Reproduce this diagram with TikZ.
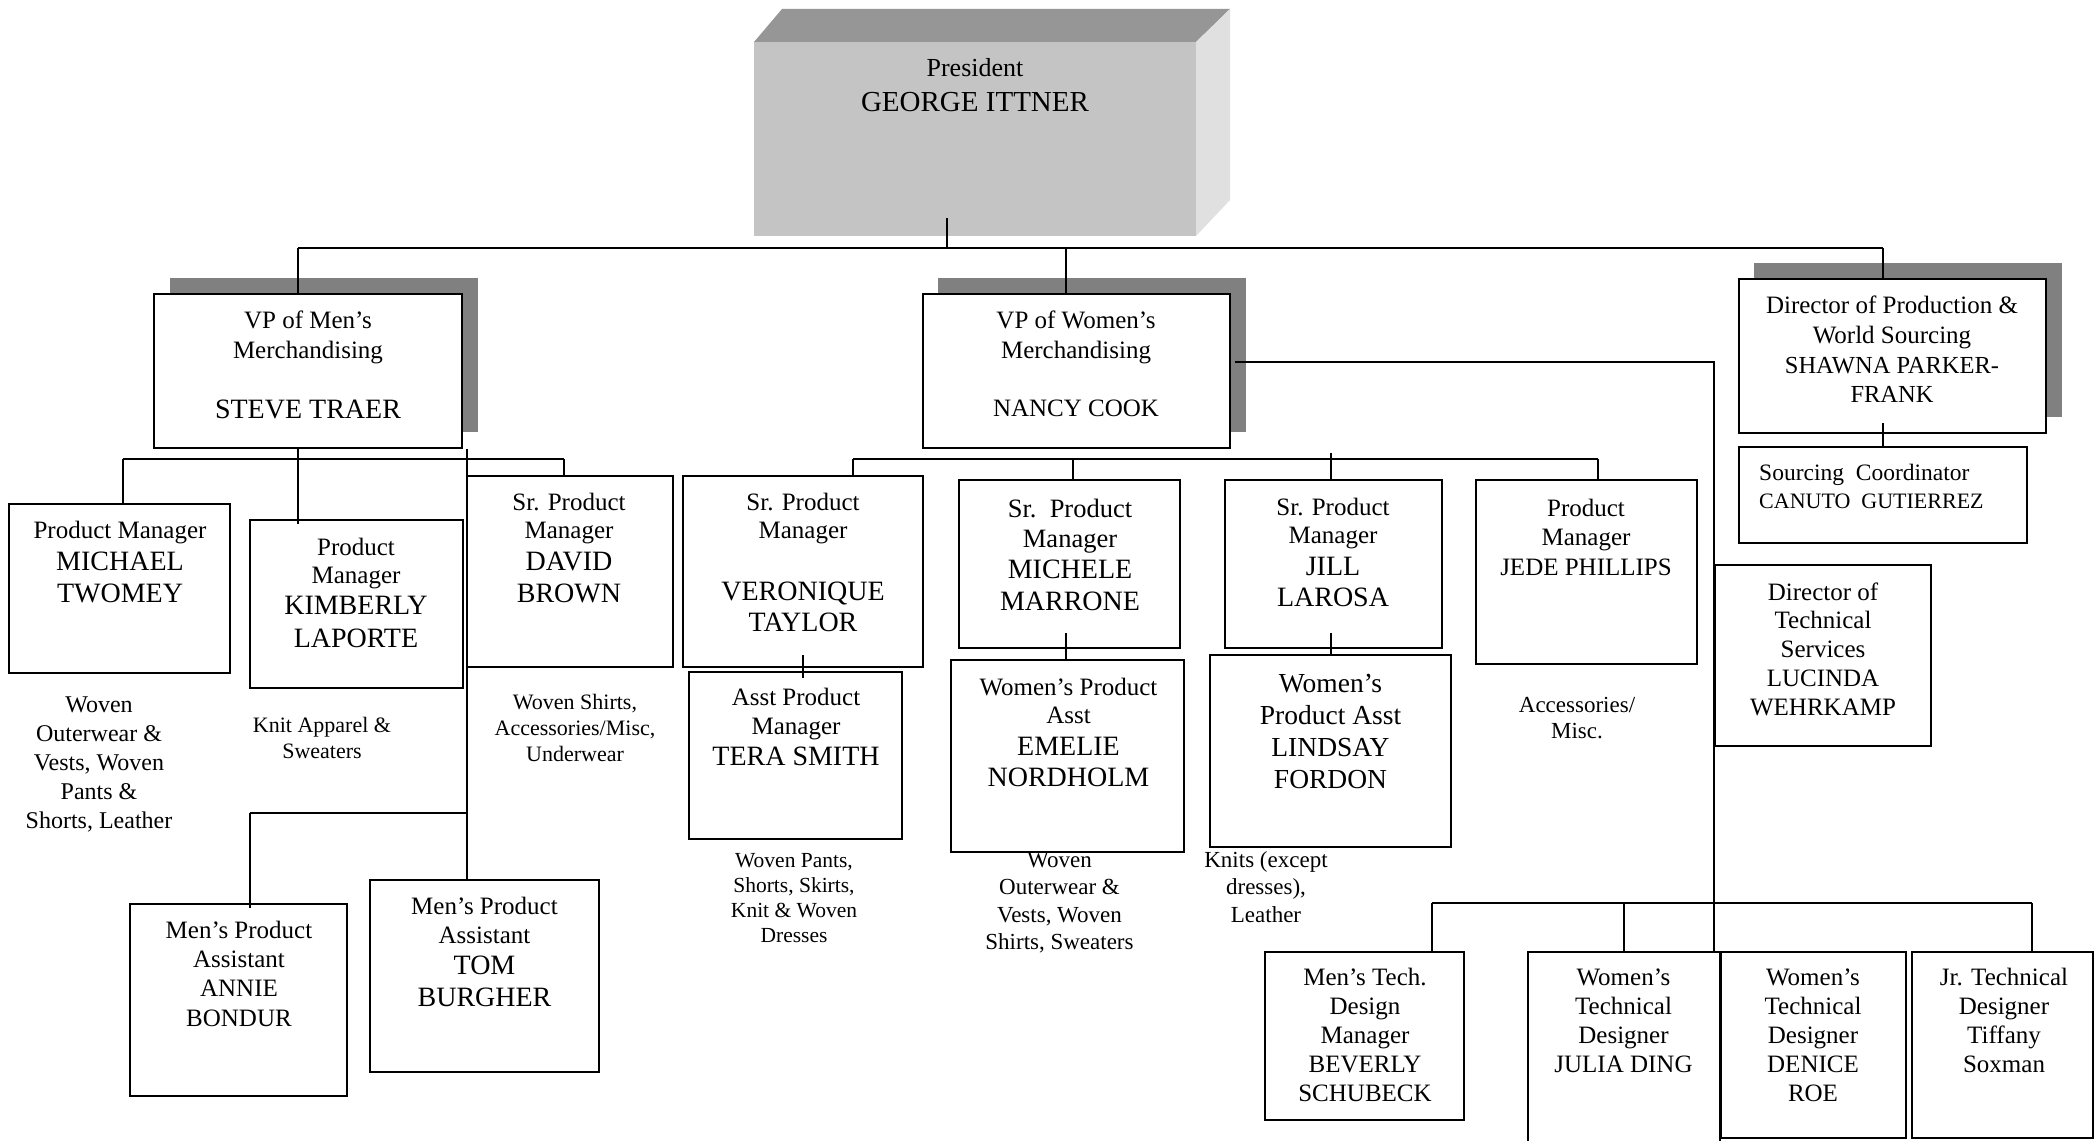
\documentclass[tikz,border=0pt]{standalone}
\usepackage{fontspec}
\setmainfont{Liberation Serif}
\usetikzlibrary{calc}

\definecolor{shadowgray}{HTML}{808080}
\definecolor{frontgray}{HTML}{C4C4C4}
\definecolor{topgray}{HTML}{969696}
\definecolor{sidegray}{HTML}{E0E0E0}

% font size / line pitch in pt
\newcommand\sz[2]{\fontsize{#1pt}{#2pt}\selectfont}

% \obox{name}{x1}{y1}{x2}{y2}: empty framed box between two corners
\newcommand\obox[5]{%
  \pgfmathsetmacro\oboxw{#4-#2}\pgfmathsetmacro\oboxh{#5-#3}%
  \pgfmathsetmacro\oboxx{(#2+#4)/2}\pgfmathsetmacro\oboxy{(#3+#5)/2}%
  \node[orgbox, minimum width=\oboxw pt, minimum height=\oboxh pt] (#1) at (\oboxx,\oboxy) {};}

% labels are placed by the baseline of their last line
\tikzset{
  orgbox/.style={draw, line width=2pt, fill=white, inner sep=0pt},
  conn/.style={line width=2pt},
  lbl/.style={anchor=base, align=center, inner sep=0pt},
  fs/.style 2 args={font=\sz{#1}{#2}},
}

\begin{document}
\begin{tikzpicture}[x=1pt, y=-1pt]
\useasboundingbox (0,0) rectangle (2095,1140);
\fill[white] (0,0) rectangle (2095,1140);

% ---------- President block (3-D) ----------
\fill[topgray] (754,42) -- (782,9) -- (1230,9) -- (1196,42) -- cycle;
\fill[sidegray] (1196,42) -- (1230,9) -- (1230,200) -- (1196,236) -- cycle;
\node[fill=frontgray, inner sep=0pt, minimum width=442pt, minimum height=194pt] (pres) at (975,139) {};

% ---------- drop shadows ----------
\fill[shadowgray] (170,278) rectangle (478,432);
\fill[shadowgray] (938,278) rectangle (1246,432);
\fill[shadowgray] (1754,263) rectangle (2062,417);

% ---------- boxes ----------
\obox{vpm}{154}{294}{462}{448}
\obox{vpw}{923}{294}{1230}{448}
\obox{dps}{1739}{279}{2046}{433}
\obox{src}{1739}{447}{2027}{543}

\obox{mt}{9}{504}{230}{673}
\obox{kim}{250}{520}{463}{688}
\obox{db}{467}{476}{673}{667}
\obox{ann}{130}{904}{347}{1096}
\obox{tom}{370}{880}{599}{1072}

\obox{ver}{683}{476}{923}{667}
\obox{mich}{959}{480}{1180}{648}
\obox{jill}{1225}{480}{1442}{648}
\obox{jede}{1476}{480}{1697}{664}
\obox{tera}{689}{672}{902}{839}
\obox{emel}{951}{660}{1184}{852}
\obox{lind}{1210}{655}{1451}{847}

\obox{dts}{1715}{565}{1931}{746}
\obox{bev}{1265}{952}{1464}{1120}
\obox{jul}{1528}{952}{1720}{1175}
\obox{den}{1721}{952}{1906}{1138}
\obox{jr}{1912}{952}{2093}{1138}

% ---------- connectors ----------
\coordinate (busL) at (298,248);
\coordinate (busW) at (1066,248);
\coordinate (busR) at (1883,248);
\coordinate (pstub) at (947,218);
\draw[conn] (busL) -- (busR);
\draw[conn] (pstub) -- (pstub |- busL);
\draw[conn] (busL) -- (busL |- vpm.north);
\draw[conn] (busW) -- (busW |- vpw.north);
\draw[conn] (busR) -- (busR |- dps.north);

% men's merchandising
\coordinate (mbL) at (123,459);
\coordinate (mbC) at (298,459);
\coordinate (mbD) at (467,459);
\coordinate (mbR) at (564,459);
\draw[conn] (mbL) -- (mbR);
\draw[conn] (mbL) -- (mbL |- mt.north);
\draw[conn] (mbC |- vpm.south) -- ($(mbC |- kim.north)+(0,5)$);
\draw[conn] (mbD |- vpm.south) -- (mbD |- tom.north);
\draw[conn] (mbR) -- (mbR |- db.north);
\coordinate (abL) at (250,813);
\draw[conn] (abL) -- (abL -| mbD);
\draw[conn] (abL) -- ($(abL |- ann.north)+(0,5)$);

% women's merchandising
\coordinate (wbL) at (853,459);
\coordinate (wbM) at (1073,459);
\coordinate (wbJ) at (1330.5,453);
\coordinate (wbR) at (1598,459);
\draw[conn] (wbL) -- (wbR);
\draw[conn] (wbL) -- (wbL |- ver.north);
\draw[conn] (wbM) -- (wbM |- mich.north);
\draw[conn] (wbJ) -- (wbJ |- jill.north);
\draw[conn] (wbR) -- (wbR |- jede.north);
\coordinate (vx) at (803,655);
\draw[conn] (vx) -- ($(vx |- tera.north)+(0,7)$);
\coordinate (mx) at (1066,633);
\draw[conn] (mx) -- (mx |- emel.north);
\coordinate (jx) at (1330.5,633);
\draw[conn] (jx) -- (jx |- lind.north);

% technical services
\coordinate (tx) at (1714,362);
\draw[conn] ($(vpw.east |- tx)+(4,0)$) -- (tx) -- (tx |- jul.north);
\coordinate (tbL) at (1432,903);
\coordinate (tbJ) at (1624,903);
\coordinate (tbR) at (2032,903);
\draw[conn] (tbL) -- (tbR);
\draw[conn] (tbL) -- (tbL |- bev.north);
\draw[conn] (tbJ) -- (tbJ |- jul.north);
\draw[conn] (tbR) -- (tbR |- jr.north);

% production
\coordinate (sx) at (1883,423);
\draw[conn] (sx) -- (sx |- src.north);

% ---------- texts ----------
\node[lbl, fs={26}{30}] (t-pres1) at (975,77) {President};
\node[lbl, fs={29}{33}] (t-pres2) at (975,111) {GEORGE ITTNER};

\node[lbl, fs={25}{30}] (t-vpm1) at (308,358) {VP of Men’s\\Merchandising};
\node[lbl, fs={28}{32}] (t-vpm2) at (308,418) {STEVE TRAER};

\node[lbl, fs={25}{30}] (t-vpw1) at (1076,358) {VP of Women’s\\Merchandising};
\node[lbl, fs={25}{30}] (t-vpw2) at (1076,416) {NANCY COOK};

\node[lbl, fs={25}{30}] (t-dps1) at (1892,343) {Director of Production \&\\World Sourcing};
\node[lbl, fs={24.5}{29}] (t-dps2) at (1892,402) {SHAWNA PARKER-\\FRANK};

\node[lbl, fs={23.5}{28}, anchor=base west] (t-src1) at (1759,480) {Sourcing\ \ Coordinator};
\node[lbl, fs={22}{28}, anchor=base west] (t-src2) at (1759,508) {CANUTO\ \ GUTIERREZ};

\node[lbl, fs={25}{30}] (t-mt1) at (120,538) {Product Manager};
\node[lbl, fs={28}{32}] (t-mt2) at (120,602) {MICHAEL\\TWOMEY};

\node[lbl, fs={25}{28}] (t-kim1) at (356,583) {Product\\Manager};
\node[lbl, fs={28}{33}] (t-kim2) at (356,647) {KIMBERLY\\LAPORTE};

\node[lbl, fs={25}{28}] (t-db1) at (569,538) {Sr. Product\\Manager};
\node[lbl, fs={28}{32}] (t-db2) at (569,602) {DAVID\\BROWN};

\node[lbl, fs={24}{29}] (d-mt) at (99,828) {Woven\\Outerwear \&\\Vests, Woven\\Pants \&\\Shorts, Leather};
\node[lbl, fs={22}{26}] (d-kim) at (322,758) {Knit Apparel \&\\Sweaters};
\node[lbl, fs={22}{26.3}] (d-db) at (575,761.6) {Woven Shirts,\\Accessories/Misc,\\Underwear};

\node[lbl, fs={25}{29.3}] (t-ann) at (239,1026) {Men’s Product\\Assistant\\ANNIE\\BONDUR};
\node[lbl, fs={25}{29}] (t-tom1) at (484.5,943) {Men’s Product\\Assistant};
\node[lbl, fs={28}{32}] (t-tom2) at (484.5,1006) {TOM\\BURGHER};

\node[lbl, fs={25}{28}] (t-ver1) at (803,538) {Sr. Product\\Manager};
\node[lbl, fs={28}{31}] (t-ver2) at (803,631) {VERONIQUE\\TAYLOR};

\node[lbl, fs={26.5}{30}] (t-mich1) at (1070,547) {Sr.\ \ Product\\Manager};
\node[lbl, fs={28}{32}] (t-mich2) at (1070,610) {MICHELE\\MARRONE};

\node[lbl, fs={25}{28}] (t-jill1) at (1333,543) {Sr. Product\\Manager};
\node[lbl, fs={28}{31.7}] (t-jill2) at (1333,606.7) {JILL\\LAROSA};

\node[lbl, fs={25}{29.5}] (t-jede) at (1586,575) {Product\\Manager\\JEDE PHILLIPS};
\node[lbl, fs={23}{26.6}] (d-jede) at (1577,738.6) {Accessories/\\Misc.};

\node[lbl, fs={25}{28.75}] (t-dts) at (1823,715) {Director of\\Technical\\Services\\LUCINDA\\WEHRKAMP};

\node[lbl, fs={25}{29.3}] (t-tera1) at (796,734.3) {Asst Product\\Manager};
\node[lbl, fs={28}{32}] (t-tera2) at (796,765) {TERA SMITH};
\node[lbl, fs={21.5}{25}] (d-tera) at (794,942) {Woven Pants,\\Shorts, Skirts,\\Knit \& Woven\\Dresses};

\node[lbl, fs={25}{28.3}] (t-emel1) at (1068.5,723.3) {Women’s Product\\Asst};
\node[lbl, fs={28}{31.7}] (t-emel2) at (1068.5,786.7) {EMELIE\\NORDHOLM};
\node[lbl, fs={23}{27.5}] (d-emel) at (1059.5,949.5) {Woven\\Outerwear \&\\Vests, Woven\\Shirts, Sweaters};

\node[lbl, fs={27.5}{32}] (t-lind) at (1330.5,788) {Women’s\\Product Asst\\LINDSAY\\FORDON};
\node[lbl, fs={23}{27.5}] (d-lind) at (1266,922) {Knits (except\\dresses),\\Leather};

\node[lbl, fs={25}{29.2}] (t-bev) at (1365,1101.8) {Men’s Tech.\\Design\\Manager\\BEVERLY\\SCHUBECK};
\node[lbl, fs={25}{29.2}] (t-jul) at (1623.5,1072.6) {Women’s\\Technical\\Designer\\JULIA DING};
\node[lbl, fs={25}{29.2}] (t-den) at (1813,1101.8) {Women’s\\Technical\\Designer\\DENICE\\ROE};
\node[lbl, fs={25}{29.2}] (t-jr) at (2004,1072.6) {Jr. Technical\\Designer\\Tiffany\\Soxman};
\end{tikzpicture}
\end{document}
